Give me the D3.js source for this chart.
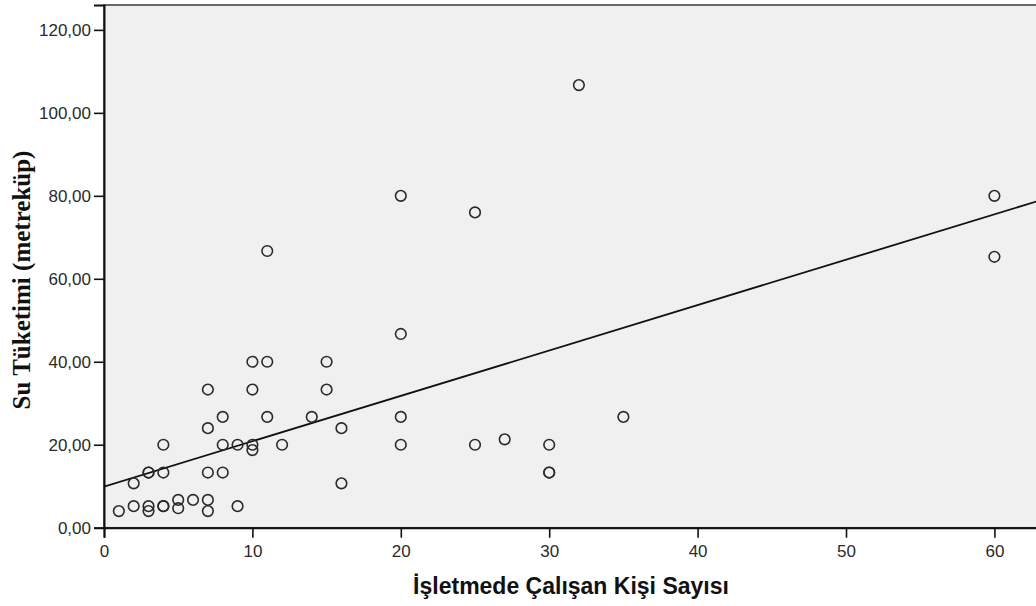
<!DOCTYPE html>
<html>
<head>
<meta charset="utf-8">
<script src="https://cdn.jsdelivr.net/npm/d3@7"></script>
<style>
  html, body { margin: 0; padding: 0; background: #ffffff; }
  svg { display: block; }
</style>
</head>
<body>
<svg id="chart" width="1036" height="606"></svg>
<script>
// Employees per business (x) and water consumption in cubic metres (y)
const employees = [1, 2, 2, 3, 3, 3, 3, 4, 4, 4, 4, 5, 5, 6, 7, 7, 7, 7, 7, 8, 8, 8, 9, 9,
  10, 10, 10, 10, 11, 11, 11, 12, 14, 15, 15, 16, 16, 20, 20, 20, 20, 25, 25, 27, 30, 30, 30,
  32, 35, 60, 60];
const consumption = [4.0, 10.7, 5.2, 13.3, 13.3, 5.2, 4.0, 20, 13.3, 5.2, 5.2, 6.7, 4.7, 6.7,
  33.3, 24, 13.3, 6.7, 4.0, 26.7, 20, 13.3, 20, 5.2, 40, 33.3, 20, 18.7, 66.7, 40, 26.7, 20,
  26.7, 40, 33.3, 24, 10.7, 80, 46.7, 26.7, 20, 76, 20, 21.3, 20, 13.3, 13.3, 106.7, 26.7,
  80, 65.3];

// Linear fit line: intercept and slope
const fitIntercept = 9.9;
const fitSlope = 1.094;

const xTicks = [0, 10, 20, 30, 40, 50, 60];
const yTicks = [0, 20, 40, 60, 80, 100, 120];

const xTitle = "İşletmede Çalışan Kişi Sayısı";
const yTitle = "Su Tüketimi (metreküp)";

const svg = d3.select("#chart");
const plotLeft = 104, plotRight = 1037, plotTop = 5, plotBottom = 527.7;

const x = d3.scaleLinear().domain([0, 62.87]).range([plotLeft, plotRight]);
const y = d3.scaleLinear().domain([0, 126]).range([plotBottom, plotTop]);

// Plot background and frame
svg.append("rect")
  .attr("x", plotLeft).attr("y", plotTop)
  .attr("width", plotRight - plotLeft).attr("height", plotBottom - plotTop)
  .attr("fill", "#f0f0f0")
  .attr("stroke", "#3a3a3a").attr("stroke-width", 1.5);

svg.append("clipPath").attr("id", "plot-clip")
  .append("rect").attr("x", plotLeft).attr("y", plotTop)
  .attr("width", plotRight - plotLeft).attr("height", plotBottom - plotTop);

const fmt = v => d3.format(".2f")(v).replace(".", ",");

// Axes
const xAxis = svg.append("g")
  .attr("transform", `translate(0,${plotBottom})`)
  .call(d3.axisBottom(x).tickValues(xTicks).tickSize(10).tickPadding(7).tickFormat(d3.format("d")));
const yAxis = svg.append("g")
  .attr("transform", `translate(${plotLeft},0)`)
  .call(d3.axisLeft(y).tickValues(yTicks).tickSize(10).tickPadding(3).tickFormat(fmt));

[xAxis, yAxis].forEach(g => {
  g.select(".domain").attr("stroke", "#111").attr("stroke-width", 2);
  g.selectAll(".tick line").attr("stroke", "#111").attr("stroke-width", 1.6);
  g.selectAll(".tick text")
    .attr("fill", "#2a2a2a")
    .style("font-family", "'Liberation Sans', Arial, sans-serif")
    .style("font-size", "17px");
});

// Fit line
const plot = svg.append("g").attr("clip-path", "url(#plot-clip)");
const xd = x.domain();
plot.append("line")
  .attr("x1", x(xd[0])).attr("y1", y(fitIntercept + fitSlope * xd[0]))
  .attr("x2", x(xd[1])).attr("y2", y(fitIntercept + fitSlope * xd[1]))
  .attr("stroke", "#111").attr("stroke-width", 1.8);

// Observations
plot.selectAll("circle.pt")
  .data(employees.map((e, i) => [e, consumption[i]]))
  .join("circle")
  .attr("class", "pt")
  .attr("cx", d => x(d[0]))
  .attr("cy", d => y(d[1]))
  .attr("r", 5.3)
  .attr("fill", "none")
  .attr("stroke", "#2a2a2a")
  .attr("stroke-width", 1.6);

// Axis titles
svg.append("text")
  .attr("x", 571)
  .attr("y", 594)
  .attr("text-anchor", "middle")
  .style("font-family", "'Liberation Sans', Arial, sans-serif")
  .style("font-weight", "bold")
  .style("font-size", "23px")
  .attr("fill", "#111")
  .text(xTitle);

svg.append("text")
  .attr("transform", "translate(30,280) rotate(-90)")
  .attr("text-anchor", "middle")
  .style("font-family", "'Liberation Serif', 'Times New Roman', serif")
  .style("font-weight", "bold")
  .style("font-size", "25px")
  .attr("fill", "#111")
  .text(yTitle);
</script>
</body>
</html>
